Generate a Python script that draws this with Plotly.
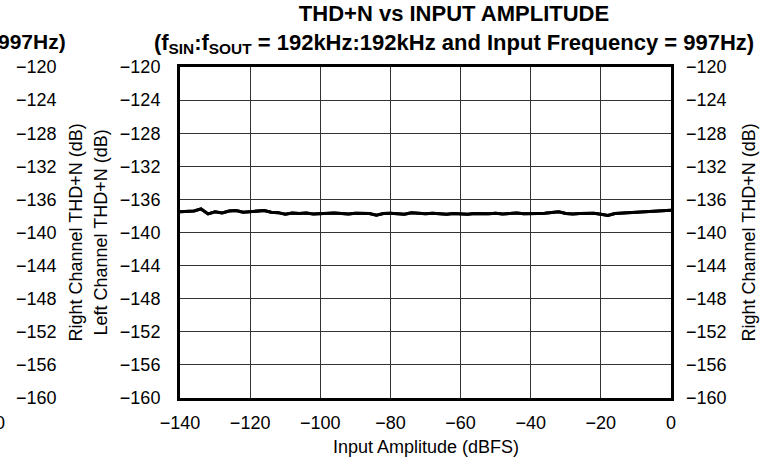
import plotly.graph_objects as go

# ---- data ----
input_dbfs = [-140, -138, -136, -134, -132, -130, -128, -126, -124, -122,
              -120, -118, -116, -114, -112, -110, -108, -106, -104, -102,
              -100, -98, -96, -94, -92, -90, -88, -86, -84, -82,
              -80, -78, -76, -74, -72, -70, -68, -66, -64, -62,
              -60, -58, -56, -54, -52, -50, -48, -46, -44, -42,
              -40, -38, -36, -34, -32, -30, -28, -26, -24, -22,
              -20, -18, -16, -14, -12, -10, -8, -6, -4, -2, 0]
thdn_db = [-137.50, -137.45, -137.40, -137.15, -137.75, -137.50, -137.65, -137.40, -137.35, -137.55,
           -137.50, -137.45, -137.35, -137.55, -137.60, -137.80, -137.65, -137.70, -137.65, -137.75,
           -137.70, -137.72, -137.65, -137.70, -137.75, -137.68, -137.72, -137.70, -137.90, -137.70,
           -137.68, -137.75, -137.78, -137.62, -137.70, -137.72, -137.68, -137.75, -137.80, -137.70,
           -137.72, -137.78, -137.70, -137.75, -137.72, -137.68, -137.75, -137.70, -137.65, -137.72,
           -137.75, -137.70, -137.68, -137.60, -137.50, -137.70, -137.75, -137.70, -137.72, -137.68,
           -137.80, -137.95, -137.70, -137.65, -137.60, -137.58, -137.55, -137.50, -137.45, -137.40, -137.30]

x_ticks = [-140, -120, -100, -80, -60, -40, -20, 0]
y_ticks = [-120, -124, -128, -132, -136, -140, -144, -148, -152, -156, -160]

title_text = ("<b>THD+N vs INPUT AMPLITUDE</b><br>"
              "<b>(f<sub>SIN</sub>:f<sub>SOUT</sub> = 192kHz:192kHz and Input Frequency = 997Hz)</b>")

FONT = "Liberation Sans, Arial, Helvetica, sans-serif"
W, H = 770, 462
L_PX, R_PX, T_PX, B_PX = 180, 671, 67, 398

fig = go.Figure()
# left channel (left axis) and right channel (right axis) overlap on the same values
fig.add_trace(go.Scatter(x=input_dbfs, y=thdn_db, mode="lines", yaxis="y",
                         line=dict(color="black", width=3), showlegend=False,
                         name="Left Channel"))
fig.add_trace(go.Scatter(x=input_dbfs, y=thdn_db, mode="lines", yaxis="y2",
                         line=dict(color="black", width=3), showlegend=False,
                         name="Right Channel"))
# neighbouring chart's axis fragment (no visible mark)
fig.add_trace(go.Scatter(x=input_dbfs, y=thdn_db, mode="lines", yaxis="y3",
                         line=dict(color="rgba(0,0,0,0)", width=0), opacity=0,
                         showlegend=False, hoverinfo="skip"))

tickfont = dict(family=FONT, size=18, color="black")
yax_common = dict(range=[-160, -120], tickvals=y_ticks, ticks="",
                  zeroline=False, tickfont=tickfont)

fig.update_layout(
    width=W, height=H,
    margin=dict(l=0, r=0, t=T_PX, b=H - B_PX, autoexpand=False),
    paper_bgcolor="white", plot_bgcolor="white",
    font=dict(family=FONT, size=18, color="black"),
    title=dict(text=title_text, x=454 / W, xanchor="center", xref="container",
               y=1 - 21 / H, yanchor="top", yref="container",
               font=dict(family=FONT, size=22, color="black")),
    xaxis=dict(domain=[L_PX / W, R_PX / W], range=[-140, 0], tickvals=x_ticks,
               ticks="", showgrid=True, gridcolor="#333", gridwidth=1,
               showline=True, linecolor="black", linewidth=3, mirror=True,
               zeroline=False, ticklabelstandoff=6, tickfont=tickfont),
    yaxis=dict(**yax_common, showgrid=True, gridcolor="#333", gridwidth=1,
               showline=True, linecolor="black", linewidth=3, mirror=True,
               ticklabelstandoff=13),
    yaxis2=dict(**yax_common, overlaying="y", side="right", anchor="x",
                showgrid=False, showline=False, ticklabelstandoff=14),
    yaxis3=dict(**yax_common, overlaying="y", side="right", anchor="free", position=0,
                showgrid=False, showline=False, ticklabelstandoff=15),
)

ann_font = dict(family=FONT, size=18, color="black")
fig.add_annotation(text="Input Amplitude (dBFS)", xref="paper", yref="paper",
                   x=(L_PX + R_PX) / 2 / W, y=(B_PX - 447) / (B_PX - T_PX),
                   xanchor="center", yanchor="middle", showarrow=False, font=ann_font)
fig.add_annotation(text="Left Channel THD+N (dB)", xref="paper", yref="paper",
                   x=100 / W, y=0.5, textangle=-90, xanchor="center", yanchor="middle",
                   showarrow=False, font=ann_font)
fig.add_annotation(text="Right Channel THD+N (dB)", xref="paper", yref="paper",
                   x=748 / W, y=0.5, textangle=-90, xanchor="center", yanchor="middle",
                   showarrow=False, font=ann_font)
fig.add_annotation(text="Right Channel THD+N (dB)", xref="paper", yref="paper",
                   x=75 / W, y=0.5, textangle=-90, xanchor="center", yanchor="middle",
                   showarrow=False, font=ann_font)
fig.add_annotation(text="<b>997Hz)</b>", xref="paper", yref="paper",
                   x=68 / W, y=(B_PX - 41) / (B_PX - T_PX), xanchor="right", yanchor="middle",
                   showarrow=False, font=dict(family=FONT, size=21, color="black"))
fig.add_annotation(text="0", xref="paper", yref="paper",
                   x=0, y=(B_PX - 423) / (B_PX - T_PX), xanchor="center", yanchor="middle",
                   showarrow=False, font=ann_font)

fig.write_html("out.html", config={"displayModeBar": False},
               post_script="document.body.style.margin='0';document.body.style.overflow='hidden';")
